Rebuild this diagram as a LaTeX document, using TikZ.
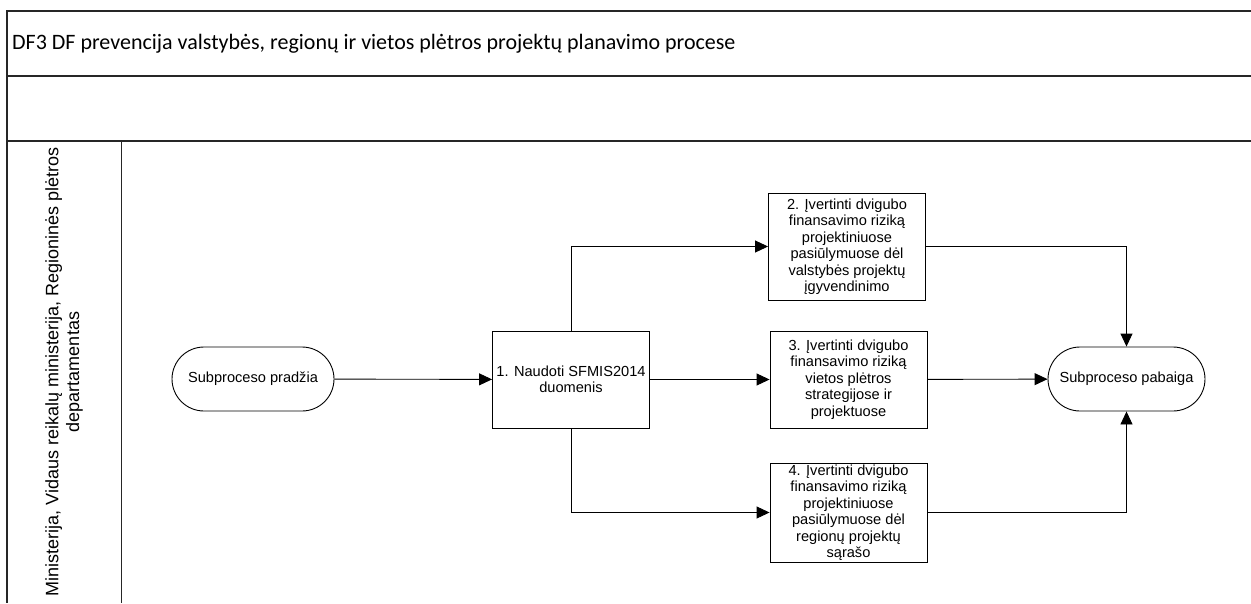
\documentclass[tikz,border=0pt]{standalone}
\usepackage{fontspec}
\setmainfont{Liberation Sans}
\newfontfamily\calibrifont{Carlito}
\usetikzlibrary{arrows.meta}
\begin{document}
\begin{tikzpicture}[x=1pt,y=-1pt,
  frameline/.style={line width=1.6pt, draw=black!85},
  laneline/.style={line width=0.9pt, draw=black!85},
  proc/.style={draw, line width=0.9pt, minimum width=157pt, align=center,
    font=\fontsize{14.6}{16.5}\selectfont, inner sep=0pt},
  term/.style={draw, line width=0.9pt, minimum width=162pt, minimum height=64pt,
    rounded corners=32pt, font=\fontsize{14.6}{16.5}\selectfont},
  conn/.style={line width=0.9pt, -{Triangle[length=13pt,width=12pt]}},
]
\useasboundingbox (0,0) rectangle (1251,603);
% frame
\draw[frameline] (1251,11) -- (7,11) -- (7,603);
\draw[frameline] (7,75.7) -- (1251,75.7);
\draw[frameline] (7,141) -- (1251,141);
\draw[laneline] (121,141) -- (121,603);
% title
\node[anchor=west, inner sep=0pt, font=\calibrifont\fontsize{22}{26}\selectfont] (title) at (12,43.5)
  {DF3 DF prevencija valstybės, regionų ir vietos plėtros projektų planavimo procese};
% lane label
\node[rotate=90, align=center, font=\fontsize{18}{20.7}\selectfont] (lane) at (64,372)
  {Ministerija, Vidaus reikalų ministerija, Regioninės plėtros\\departamentas};
% nodes
\node[term] (start) at (253,379) {Subproceso pradžia};
\node[proc, minimum height=97pt] (p1) at (571,379.5) {1. Naudoti SFMIS2014\\duomenis};
\node[proc, minimum height=107pt] (p2) at (847,246.5)
  {2. Įvertinti dvigubo\\finansavimo riziką\\projektiniuose\\pasiūlymuose dėl\\valstybės projektų\\įgyvendinimo};
\node[proc, minimum height=97pt] (p3) at (848.5,379.5)
  {3. Įvertinti dvigubo\\finansavimo riziką\\vietos plėtros\\strategijose ir\\projektuose};
\node[proc, minimum height=99pt] (p4) at (848.5,512.5)
  {4. Įvertinti dvigubo\\finansavimo riziką\\projektiniuose\\pasiūlymuose dėl\\regionų projektų\\sąrašo};
\node[term, minimum width=157pt] (end) at (1126.5,379) {Subproceso pabaiga};
% connectors
\draw[conn] (start) -- (p1);
\draw[conn] (p1.north) |- (p2.west);
\draw[conn] (p1) -- (p3);
\draw[conn] (p1.south) |- (p4.west);
\draw[conn] (p3) -- (end);
\draw[conn] (p2.east) -| (end.north);
\draw[conn] (p4.east) -| (end.south);
\end{tikzpicture}
\end{document}
